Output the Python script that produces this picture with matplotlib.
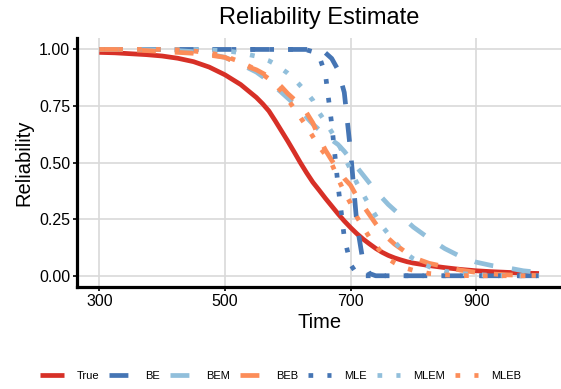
import matplotlib
matplotlib.use("Agg")
import matplotlib.pyplot as plt

plt.rcParams["font.family"] = ["Liberation Sans", "DejaVu Sans"]

# time grid (finer where the curves drop fast)
time = [300, 325, 350, 375, 400, 425, 450, 475, 500, 525, 550,
        560, 570, 580, 590, 600, 610, 620, 630, 640, 650, 660, 670,
        680, 690, 700, 710, 720, 730, 740, 750, 760, 770, 780, 790, 800,
        825, 850, 875, 900, 925, 950, 975, 1000]

r_true = [0.987, 0.985, 0.981, 0.977, 0.971, 0.961, 0.946, 0.922, 0.888, 0.845, 0.788,
          0.760, 0.728, 0.685, 0.640, 0.595, 0.548, 0.500, 0.455, 0.413, 0.378, 0.342, 0.308,
          0.274, 0.242, 0.213, 0.186, 0.162, 0.141, 0.121, 0.104, 0.090, 0.079, 0.070, 0.062, 0.056,
          0.045, 0.036, 0.028, 0.022, 0.018, 0.015, 0.012, 0.010]

r_be = [1.0, 1.0, 1.0, 1.0, 1.0, 1.0, 1.0, 1.0, 1.0, 1.0, 1.0,
        1.0, 1.0, 1.0, 1.0, 1.0, 1.0, 1.0, 1.0, 0.998, 0.995, 0.985, 0.96,
        0.91, 0.81, 0.55, 0.23, 0.06, 0.01, 0.0, 0.0, 0.0, 0.0, 0.0, 0.0, 0.0,
        0.0, 0.0, 0.0, 0.0, 0.0, 0.0, 0.0, 0.0]

r_bem = [1.0, 1.0, 1.0, 0.999, 0.998, 0.995, 0.99, 0.98, 0.965, 0.935, 0.90,
         0.88, 0.86, 0.835, 0.81, 0.785, 0.76, 0.73, 0.70, 0.67, 0.645, 0.625, 0.60,
         0.58, 0.55, 0.515, 0.48, 0.445, 0.41, 0.375, 0.345, 0.315, 0.29, 0.265, 0.24, 0.215,
         0.165, 0.12, 0.085, 0.06, 0.045, 0.035, 0.022, 0.015]

r_beb = [1.0, 1.0, 0.998, 0.995, 0.99, 0.987, 0.983, 0.975, 0.965, 0.935, 0.91,
         0.895, 0.88, 0.86, 0.835, 0.805, 0.78, 0.75, 0.72, 0.675, 0.61, 0.555, 0.51,
         0.47, 0.43, 0.40, 0.35, 0.31, 0.27, 0.23, 0.195, 0.165, 0.14, 0.12, 0.10, 0.08,
         0.055, 0.04, 0.025, 0.015, 0.008, 0.004, 0.002, 0.001]

r_mle = [1.0, 1.0, 1.0, 1.0, 1.0, 1.0, 1.0, 1.0, 1.0, 1.0, 1.0,
         1.0, 1.0, 1.0, 1.0, 1.0, 1.0, 1.0, 0.998, 0.99, 0.97, 0.89, 0.67,
         0.40, 0.17, 0.05, 0.008, 0.0, 0.0, 0.0, 0.0, 0.0, 0.0, 0.0, 0.0, 0.0,
         0.0, 0.0, 0.0, 0.0, 0.0, 0.0, 0.0, 0.0]

r_mlem = [1.0, 1.0, 1.0, 1.0, 1.0, 1.0, 1.0, 0.998, 0.995, 0.985, 0.97,
          0.96, 0.95, 0.935, 0.915, 0.895, 0.87, 0.84, 0.81, 0.775, 0.72, 0.68, 0.635,
          0.59, 0.525, 0.47, 0.41, 0.36, 0.31, 0.265, 0.22, 0.185, 0.15, 0.12, 0.095, 0.075,
          0.04, 0.02, 0.01, 0.005, 0.002, 0.001, 0.0, 0.0]

r_mleb = [1.0, 1.0, 1.0, 1.0, 1.0, 0.998, 0.993, 0.985, 0.97, 0.945, 0.91,
          0.89, 0.87, 0.845, 0.815, 0.78, 0.74, 0.70, 0.66, 0.615, 0.57, 0.535, 0.495,
          0.43, 0.37, 0.32, 0.26, 0.215, 0.17, 0.135, 0.10, 0.075, 0.057, 0.042, 0.032, 0.024,
          0.01, 0.004, 0.001, 0.0, 0.0, 0.0, 0.0, 0.0]

x_ticks = [300, 500, 700, 900]
y_ticks = [0.0, 0.25, 0.5, 0.75, 1.0]
y_ticklabels = ["0.00", "0.25", "0.50", "0.75", "1.00"]

red = "#d73027"
dark_blue = "#4575b4"
light_blue = "#91bfdb"
orange = "#fc8d59"

series = [
    ("True", r_true, red, "solid"),
    ("BE", r_be, dark_blue, (0, (4, 4))),
    ("BEM", r_bem, light_blue, (0, (4, 4))),
    ("BEB", r_beb, orange, (0, (4, 4))),
    ("MLE", r_mle, dark_blue, (0, (1, 3))),
    ("MLEM", r_mlem, light_blue, (0, (1, 3))),
    ("MLEB", r_mleb, orange, (0, (1, 3))),
]

fig = plt.figure(figsize=(5.61, 3.89), dpi=100)
ax = fig.add_axes([0.1378, 0.262, 0.8622, 0.640])

lw = 3.4
for label, vals, color, ls in series:
    ax.plot(time, vals, color=color, linestyle=ls, linewidth=lw, label=label,
            solid_capstyle="butt", dash_capstyle="butt")

ax.set_xlim(265, 1035)
ax.set_ylim(-0.05, 1.05)
ax.set_xticks(x_ticks)
ax.set_yticks(y_ticks)
ax.set_yticklabels(y_ticklabels)
ax.grid(True, color="#d9d9d9", linewidth=1.2)
ax.set_axisbelow(True)

for side in ["top", "right"]:
    ax.spines[side].set_visible(False)
for side in ["left", "bottom"]:
    ax.spines[side].set_linewidth(2.3)
    ax.spines[side].set_color("black")
ax.tick_params(axis="both", length=3, width=1.2, color="black", labelsize=11.5,
               labelcolor="black", pad=2)

ax.set_title("Reliability Estimate", fontsize=17, pad=10)
ax.set_xlabel("Time", fontsize=14.5, labelpad=3)
ax.set_ylabel("Reliability", fontsize=14.5, labelpad=4)

fig.legend(loc="center", bbox_to_anchor=(0.5, 0.034), ncol=7, frameon=False,
           fontsize=8, handlelength=2.1, handletextpad=1.15, columnspacing=0.9)

fig.savefig("out.png", dpi=100)
